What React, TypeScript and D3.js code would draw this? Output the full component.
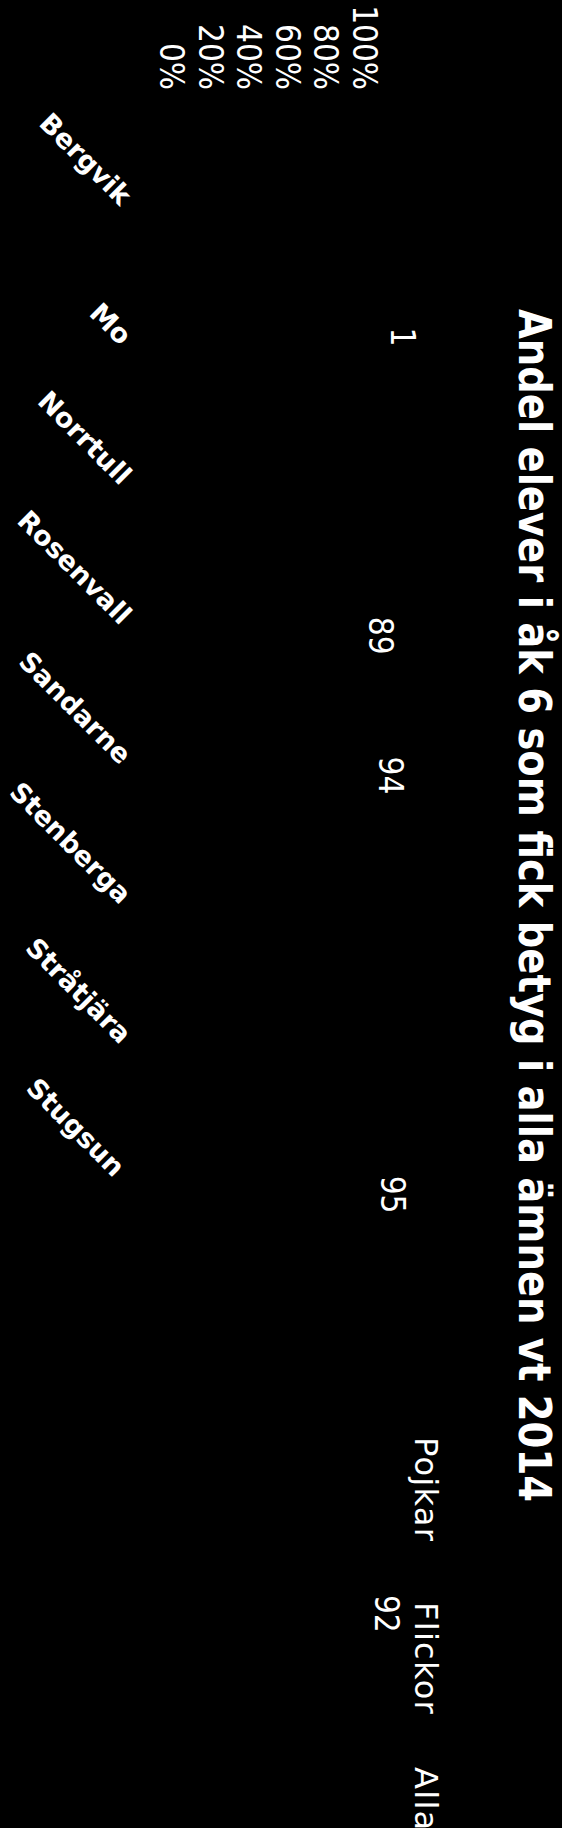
import * as React from "react";
import * as d3 from "d3";

// page size; the chart was exported lying on its side (rotated 90° clockwise)
const W = 562;
const H = 1828;

const title = "Andel elever i åk 6 som fick betyg i alla ämnen vt 2014";

// category axis (last three rows of the sheet carry no name)
const schools = [
  "Bergvik",
  "Mo",
  "Norrtull",
  "Rosenvall",
  "Sandarne",
  "Stenberga",
  "Stråtjära",
  "Stugsun ",
  "",
  "",
  "",
];

const series = ["Pojkar", "Flickor", "Alla"];

// values as they are labelled; Mo/Pojkar is stored as a share (1 = 100 %)
const pojkar: (number | null)[] = [null, 1, null, null, null, null, null, null, null, null, null];
const flickor: (number | null)[] = [null, null, null, null, null, null, null, null, null, null, null];
const alla: (number | null)[] = [null, null, null, 89, 94, null, null, 95, null, null, 92];

const yTicks = [0, 0.2, 0.4, 0.6, 0.8, 1];

// layout in the un-rotated frame: u runs along the category axis, v downwards
const PLOT = { left: 137, right: 1674, top: 197.5, bottom: 390 };
const TICK_END = 90;
const CAT_V = 442;
const LABEL_GAP = 38;
const TITLE_V = 43;
const LEGEND = { start: 1437, end: 1767, v: 147 };

const COND = "'DejaVu Sans Condensed', 'DejaVu Sans', sans-serif";
const SANS = "'DejaVu Sans', sans-serif";

const toShare = (v: number) => (v <= 1 ? v : v / 100);

export default function App() {
  const values = [pojkar, flickor, alla];

  const x0 = d3
    .scalePoint<number>()
    .domain(d3.range(schools.length))
    .range([PLOT.left, PLOT.right])
    .padding(0.5);

  const x1 = d3.scaleBand<string>().domain(series).range([-14.5, 14.5]);

  const y = d3.scaleLinear().domain([0, 1]).range([PLOT.bottom, PLOT.top]);

  const legendX = d3.scalePoint<string>().domain(series).range([LEGEND.start, LEGEND.end]);

  return (
    <>
      <style>{"html,body{margin:0;padding:0;background:#000}"}</style>
      <svg width={W} height={H} style={{ display: "block", background: "#000" }}>
        <rect width={W} height={H} fill="#000" />
        <g transform={`translate(${W},0) rotate(90)`}>
          {/* title */}
          <text
            x={(PLOT.left + PLOT.right) / 2}
            y={TITLE_V}
            textAnchor="middle"
            fill="#fff"
            fontFamily={COND}
            fontStretch="condensed"
            fontWeight="bold"
            fontSize={45}
            textLength={1193}
            lengthAdjust="spacingAndGlyphs"
          >
            {title}
          </text>

          {/* value axis labels */}
          {yTicks.map((t) => (
            <text
              key={`t-${t}`}
              x={TICK_END}
              y={y(t)}
              dy="0.36em"
              textAnchor="end"
              fill="#fff"
              fontFamily={COND}
              fontStretch="condensed"
              fontSize={33}
            >
              {d3.format(".0%")(t)}
            </text>
          ))}

          {/* bars (same colour as the background in the export) */}
          {values.map((row, s) =>
            row.map((v, i) =>
              v == null ? null : (
                <rect
                  key={`b-${s}-${i}`}
                  x={(x0(i) ?? 0) + (x1(series[s]) ?? 0)}
                  y={y(toShare(v))}
                  width={x1.bandwidth()}
                  height={y(0) - y(toShare(v))}
                  fill="#000"
                />
              ),
            ),
          )}

          {/* data labels */}
          {values.map((row, s) =>
            row.map((v, i) =>
              v == null ? null : (
                <text
                  key={`l-${s}-${i}`}
                  x={(x0(i) ?? 0) + (x1(series[s]) ?? 0) + x1.bandwidth() / 2}
                  y={y(toShare(v)) - LABEL_GAP}
                  dy="0.36em"
                  textAnchor="middle"
                  fill="#fff"
                  fontFamily={COND}
                  fontStretch="condensed"
                  fontSize={33}
                >
                  {v}
                </text>
              ),
            ),
          )}

          {/* category labels */}
          {schools.map((name, i) => (
            <text
              key={`c-${i}`}
              transform={`translate(${x0(i)},${CAT_V}) rotate(-45)`}
              textAnchor="end"
              fill="#fff"
              fontFamily={SANS}
              fontWeight="bold"
              fontSize={27}
              style={{ whiteSpace: "pre" }}
            >
              {name}
            </text>
          ))}

          {/* legend */}
          {series.map((name) => (
            <g key={`lg-${name}`}>
              <rect x={(legendX(name) ?? 0) - 22} y={LEGEND.v - 16} width={14} height={14} fill="#000" />
              <text
                x={legendX(name)}
                y={LEGEND.v}
                fill="#fff"
                fontFamily={SANS}
                fontSize={32}
                letterSpacing={1.3}
              >
                {name}
              </text>
            </g>
          ))}
        </g>
      </svg>
    </>
  );
}
